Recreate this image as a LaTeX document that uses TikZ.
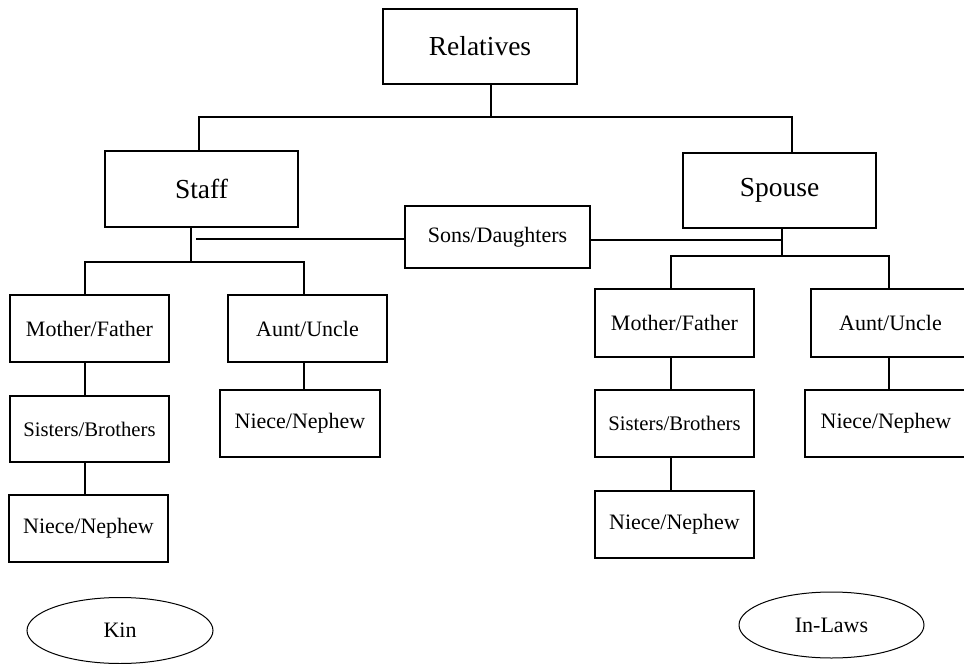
\documentclass[tikz,border=0pt]{standalone}
\usepackage{fontspec}
\setmainfont{Liberation Serif}
\usetikzlibrary{shapes.geometric}
\tikzset{
  box/.style={draw=black, line width=1.2pt, rectangle, inner sep=0pt, align=center},
  bigbox/.style={box, font=\fontsize{27.5}{30}\selectfont},
  smallbox/.style={box, font=\fontsize{22}{24}\selectfont, minimum width=159pt, minimum height=67pt},
  oval/.style={draw=black, line width=1pt, ellipse, inner sep=0pt, font=\fontsize{22}{24}\selectfont},
  link/.style={draw=black, line width=1.2pt}
}
\begin{document}
\begin{tikzpicture}[x=1pt, y=-1pt]
\useasboundingbox (0,0) rectangle (964,664);
\clip (0,0) rectangle (964,664);
% main boxes
\node[bigbox, minimum width=194pt, minimum height=75pt] (rel) at (480,46.5) {Relatives};
\node[bigbox, minimum width=193pt, minimum height=76pt] (staff) at (201.5,189) {Staff};
\node[bigbox, minimum width=193pt, minimum height=75pt] (spouse) at (779.5,190.5) {Spouse};
\node[box, font=\fontsize{22}{24}\selectfont, minimum width=185pt, minimum height=62pt] (sons) at (497.5,237) {Sons/Daughters};
% left (kin) side
\node[smallbox] (lmf) at (89.5,328.5) {Mother/Father};
\node[smallbox, minimum height=66pt, font=\fontsize{20.7}{23}\selectfont] (lsb) at (89.5,429) {Sisters/Brothers};
\node[smallbox] (lnn) at (88.5,528.5) {Niece/Nephew};
\node[smallbox] (lau) at (307.5,328.5) {Aunt/Uncle};
\node[smallbox, minimum width=160pt] (lan) at (300,423.5) {Niece/Nephew};
% right (in-law) side
\node[smallbox, minimum height=68pt] (rmf) at (674.5,323) {Mother/Father};
\node[smallbox, font=\fontsize{20.7}{23}\selectfont] (rsb) at (674.5,423.5) {Sisters/Brothers};
\node[smallbox] (rnn) at (674.5,524.5) {Niece/Nephew};
\node[smallbox, minimum height=68pt] (rau) at (890.5,323) {Aunt/Uncle};
\node[smallbox, minimum width=162pt] (ran) at (886,423.5) {Niece/Nephew};
% ovals
\node[oval, minimum width=186pt, minimum height=66pt] (kin) at (120,630.5) {Kin};
\node[oval, minimum width=185pt, minimum height=66pt] (inlaws) at (831.5,625) {In-Laws};
% junction coordinates
\coordinate (j0) at (491,117);
\coordinate (jL) at (199,117);
\coordinate (jR) at (792,117);
\coordinate (sS) at (191,262);
\coordinate (la) at (85,262);
\coordinate (lb) at (304,262);
\coordinate (sg) at (196,239);
\coordinate (rs) at (782,240);
\coordinate (rS) at (782,256);
\coordinate (ra) at (671,256);
\coordinate (rb) at (889,256);
% top level
\draw[link] (rel.south -| j0) -- (j0);
\draw[link] (staff.north -| jL) -- (jL) -- (jR) -- (spouse.north -| jR);
% staff branch
\draw[link] (staff.south -| sS) -- (sS);
\draw[link] (lmf.north -| la) -- (la) -- (lb) -- (lau.north -| lb);
\draw[link] (sg) -- (sg -| sons.west);
\draw[link] (lmf.south -| la) -- (lsb.north -| la);
\draw[link] (lsb.south -| la) -- (lnn.north -| la);
\draw[link] (lau.south -| lb) -- (lan.north -| lb);
% spouse branch
\draw[link] (sons.east |- rs) -- (rs);
\draw[link] (spouse.south -| rS) -- (rS);
\draw[link] (rmf.north -| ra) -- (ra) -- (rb) -- (rau.north -| rb);
\draw[link] (rmf.south -| ra) -- (rsb.north -| ra);
\draw[link] (rsb.south -| ra) -- (rnn.north -| ra);
\draw[link] (rau.south -| rb) -- (ran.north -| rb);
\end{tikzpicture}
\end{document}
